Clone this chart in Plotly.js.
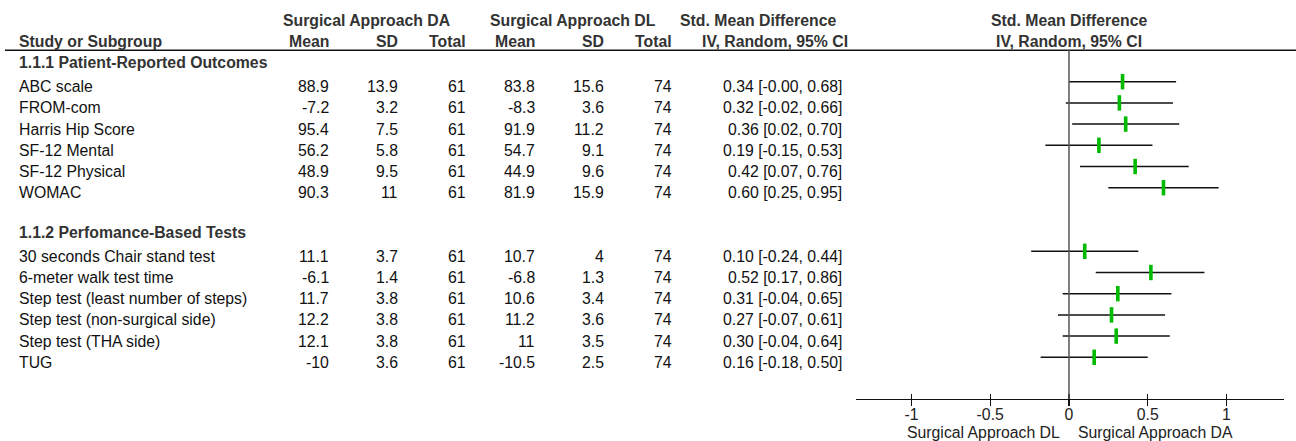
<!DOCTYPE html>
<html>
<head>
<meta charset="utf-8">
<script src="https://cdn.plot.ly/plotly-3.0.1.min.js"></script>
<style>html,body{margin:0;padding:0;background:#fff;}#chart{width:1296px;height:441px;}</style>
</head>
<body>
<div id="chart"></div>
<script>
// ---- data ----
const groups = ["1.1.1 Patient-Reported Outcomes", "1.1.2 Perfomance-Based Tests"];
const studies = ["ABC scale", "FROM-com", "Harris Hip Score", "SF-12 Mental", "SF-12 Physical", "WOMAC",
  "30 seconds Chair stand test", "6-meter walk test time", "Step test (least number of steps)",
  "Step test (non-surgical side)", "Step test (THA side)", "TUG"];
const groupOf = [0, 0, 0, 0, 0, 0, 1, 1, 1, 1, 1, 1];
const daMean = ["88.9", "-7.2", "95.4", "56.2", "48.9", "90.3", "11.1", "-6.1", "11.7", "12.2", "12.1", "-10"];
const daSD = ["13.9", "3.2", "7.5", "5.8", "9.5", "11", "3.7", "1.4", "3.8", "3.8", "3.8", "3.6"];
const daTotal = [61, 61, 61, 61, 61, 61, 61, 61, 61, 61, 61, 61];
const dlMean = ["83.8", "-8.3", "91.9", "54.7", "44.9", "81.9", "10.7", "-6.8", "10.6", "11.2", "11", "-10.5"];
const dlSD = ["15.6", "3.6", "11.2", "9.1", "9.6", "15.9", "4", "1.3", "3.4", "3.6", "3.5", "2.5"];
const dlTotal = [74, 74, 74, 74, 74, 74, 74, 74, 74, 74, 74, 74];
const smd = [0.34, 0.32, 0.36, 0.19, 0.42, 0.60, 0.10, 0.52, 0.31, 0.27, 0.30, 0.16];
const ciLow = [-0.00, -0.02, 0.02, -0.15, 0.07, 0.25, -0.24, 0.17, -0.04, -0.07, -0.04, -0.18];
const ciHigh = [0.68, 0.66, 0.70, 0.53, 0.76, 0.95, 0.44, 0.86, 0.65, 0.61, 0.64, 0.50];
const tickVals = [-1, -0.5, 0, 0.5, 1];
const tickText = ["-1", "-0.5", "0", "0.5", "1"];
const favoursLeft = "Surgical Approach DL";
const favoursRight = "Surgical Approach DA";

// ---- layout helpers ----
const W = 1296, H = 441;
const FONT = "Liberation Sans, Arial, sans-serif";
const FS = 15.8;
const row0 = 81.7, rowH = 21.2;        // pixel of first study row, row spacing
const axisY = 399;                      // pixel of x-axis line
const yTop = (0 - row0) / rowH, yBot = (axisY - row0) / rowH;
const px = p => p / W;
// row index of each study: groups separated by a blank row plus a header row
const studyRows = [];
{
  let r = 0;
  studies.forEach((_, i) => {
    if (i > 0 && groupOf[i] !== groupOf[i - 1]) r += 2;
    studyRows.push(r);
    r += 1;
  });
}
const groupRows = groups.map((_, gi) => studyRows[groupOf.indexOf(gi)] - 1.14);
const fmt = v => ((v < 0 || Object.is(v, -0)) ? "-" + Math.abs(v).toFixed(2) : v.toFixed(2));
const ciText = smd.map((v, i) => fmt(v) + " [" + fmt(ciLow[i]) + ", " + fmt(ciHigh[i]) + "]");

const TXT_SHIFT = -5;
const ann = [];
function cell(text, xPix, row, anchor, bold, shift) {
  ann.push({
    text: bold ? "<b>" + text + "</b>" : text,
    xref: "paper", yref: "y", x: px(xPix), y: row, xanchor: anchor, yanchor: "middle",
    yshift: shift === undefined ? TXT_SHIFT : shift, showarrow: false,
    font: {family: FONT, size: FS, color: bold ? "#333" : "#111"}
  });
}
// column right edges (pixels)
const cols = {daMean: 330.5, daSD: 399.5, daTotal: 468, dlMean: 537, dlSD: 606, dlTotal: 674.5, ci: 843.5};
const H1 = -2.5, H2 = -2.5;

// headers
cell("Surgical Approach DA", 281, -3, "left", true, H1);
cell("Surgical Approach DL", 488, -3, "left", true, H1);
cell("Std. Mean Difference", 678, -3, "left", true, H1);
cell("Study or Subgroup", 17, -2, "left", true, H2);
cell("Mean", cols.daMean, -2, "right", true, H2);
cell("SD", cols.daSD, -2, "right", true, H2);
cell("Total", cols.daTotal, -2, "right", true, H2);
cell("Mean", cols.dlMean, -2, "right", true, H2);
cell("SD", cols.dlSD, -2, "right", true, H2);
cell("Total", cols.dlTotal, -2, "right", true, H2);
cell("IV, Random, 95% CI", 850, -2, "right", true, H2);
[["Std. Mean Difference", -3, H1], ["IV, Random, 95% CI", -2, H2]].forEach(([t, r, s]) => {
  ann.push({text: "<b>" + t + "</b>", xref: "x", yref: "y", x: 0, y: r, xanchor: "center", yanchor: "middle",
    yshift: s, showarrow: false, font: {family: FONT, size: FS, color: "#333"}});
});
groups.forEach((g, gi) => cell(g, 17, groupRows[gi], "left", true));
studies.forEach((s, i) => {
  const r = studyRows[i];
  cell(s, 17, r, "left", false);
  cell(daMean[i], cols.daMean, r, "right");
  cell(daSD[i], cols.daSD, r, "right");
  cell(String(daTotal[i]), cols.daTotal, r, "right");
  cell(dlMean[i], cols.dlMean, r, "right");
  cell(dlSD[i], cols.dlSD, r, "right");
  cell(String(dlTotal[i]), cols.dlTotal, r, "right");
  cell(ciText[i], cols.ci, r, "right");
});
// favours labels
ann.push({text: favoursLeft, xref: "paper", yref: "paper", x: px(1062), y: 1 - 432 / H, xanchor: "right", yanchor: "middle",
  showarrow: false, font: {family: FONT, size: FS, color: "#222"}});
ann.push({text: favoursRight, xref: "paper", yref: "paper", x: px(1076), y: 1 - 432 / H, xanchor: "left", yanchor: "middle",
  showarrow: false, font: {family: FONT, size: FS, color: "#222"}});

const ruleRow = (50.3 - row0) / rowH;
const shapes = [
  {type: "line", xref: "paper", yref: "y", x0: px(5), x1: 1, y0: ruleRow, y1: ruleRow, line: {color: "#111", width: 1.6}},
  {type: "line", xref: "x", yref: "y", x0: 0, x1: 0, y0: ruleRow, y1: yBot, line: {color: "#555", width: 1.5}}
];

const xRange = [-1.352, 1.365];
const xDomain = [px(856), px(1284)];

const traces = [
  {
    type: "scatter", mode: "markers", x: smd, y: studyRows, xaxis: "x", yaxis: "y",
    error_x: {type: "data", symmetric: false,
      array: smd.map((v, i) => ciHigh[i] - v), arrayminus: smd.map((v, i) => v - ciLow[i]),
      color: "#111", thickness: 1.5, width: 0},
    marker: {symbol: "line-ns", size: 11, color: "#00bb00", line: {color: "#00bb00", width: 3.6}},
    hoverinfo: "skip", showlegend: false
  },
  {type: "scatter", mode: "markers", x: [], y: [], xaxis: "x2", yaxis: "y", hoverinfo: "skip", showlegend: false}
];

const layout = {
  width: W, height: H, margin: {l: 0, r: 0, t: 0, b: 0},
  paper_bgcolor: "#fff", plot_bgcolor: "rgba(0,0,0,0)",
  showlegend: false,
  xaxis: {domain: xDomain, range: xRange, showgrid: false, zeroline: false, showline: true,
    linecolor: "#111", linewidth: 1.4, ticks: "inside", ticklen: 5.5, tickwidth: 1.3, tickcolor: "#111",
    ticklabelstandoff: 1,
    tickvals: tickVals, ticktext: tickText, tickfont: {family: FONT, size: FS, color: "#222"}, anchor: "y", fixedrange: true},
  xaxis2: {domain: xDomain, range: xRange, overlaying: "x", anchor: "y", side: "bottom", showgrid: false, zeroline: false,
    showline: false, ticks: "outside", ticklen: 5.5, tickwidth: 1.3, tickcolor: "#111", tickvals: tickVals,
    showticklabels: false, fixedrange: true},
  yaxis: {domain: [(H - axisY) / H, 1], range: [yBot, yTop], visible: false, fixedrange: true},
  annotations: ann, shapes: shapes
};

Plotly.newPlot("chart", traces, layout, {displayModeBar: false, staticPlot: true});
</script>
</body>
</html>
